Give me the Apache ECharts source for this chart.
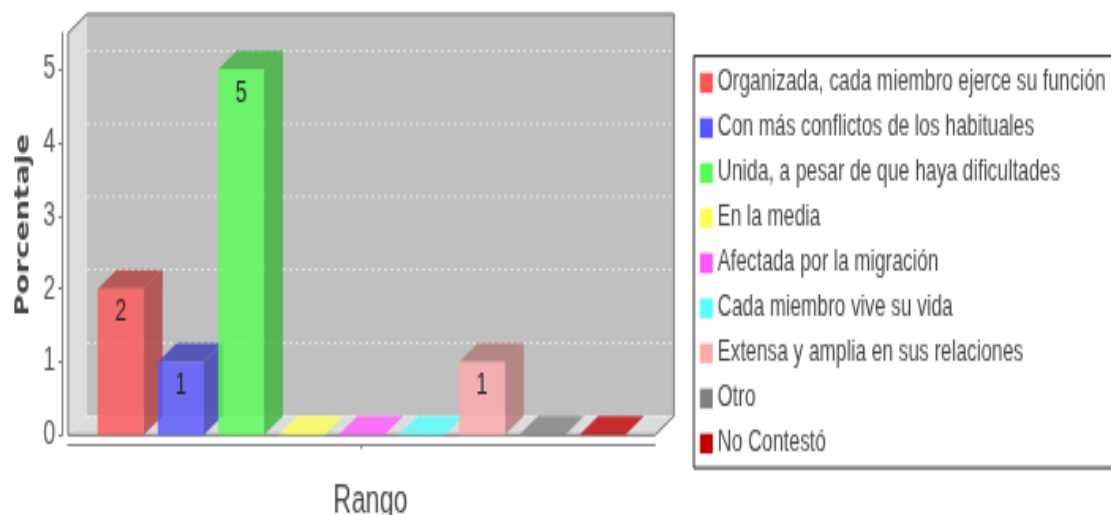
<!DOCTYPE html>
<html>
<head>
<meta charset="utf-8">
<script src="https://cdn.jsdelivr.net/npm/echarts@6/dist/echarts.min.js"></script>
<style>
  html, body { margin: 0; padding: 0; background: #fff; height: 100%; }
  html { overflow: hidden; }
  /* the source image is a small chart stretched to this size, so stretch ours too */
  #chart { width: 703px; height: 217px; transform-origin: 0 0; transform: scale(1.5804, 2.3733); }
</style>
</head>
<body>
<div id="chart"></div>
<script>
const categories = ["Rango"];
const seriesNames = [
  "Organizada, cada miembro ejerce su función",
  "Con más conflictos de los habituales",
  "Unida, a pesar de que haya dificultades",
  "En la media",
  "Afectada por la migración",
  "Cada miembro vive su vida",
  "Extensa y amplia en sus relaciones",
  "Otro",
  "No Contestó"
];
const seriesValues = [2, 1, 5, 0, 0, 0, 1, 0, 0];
const seriesColors = ["#ff5555", "#5555ff", "#55ff55", "#ffff55", "#ff55ff", "#55ffff", "#ffaaaa", "#808080", "#c00000"];
const yTicks = [0, 1, 2, 3, 4, 5];

const DX = 12, DY = 8;
const BAR_W = 29.1, BAR_PITCH = 38.1;

function darker(hex) {
  const n = parseInt(hex.slice(1), 16);
  const c = [n >> 16, (n >> 8) & 255, n & 255].map(v => Math.round(v * 0.7));
  return `rgb(${c[0]},${c[1]},${c[2]})`;
}

function renderWalls(params, api) {
  const g = params.coordSys;
  const l = g.x, r = g.x + g.width, t = g.y, b = g.y + g.height;
  const children = [
    { type: "rect", shape: { x: l + DX, y: t - DY, width: g.width, height: g.height }, style: { fill: "#c0c0c0" } },
    { type: "polygon", shape: { points: [[l, b], [l + DX, b - DY], [l + DX, t - DY], [l, t]] }, style: { fill: "#dddddd" } },
    { type: "polygon", shape: { points: [[l, b], [r, b], [r + DX, b - DY], [l + DX, b - DY]] }, style: { fill: "#dddddd" } }
  ];
  yTicks.forEach(v => {
    const y = api.coord([0, v])[1];
    children.push({
      type: "line",
      shape: { x1: l + DX, y1: y - DY, x2: r + DX, y2: y - DY },
      style: { stroke: "#eeeeee", lineWidth: 0.7, lineDash: [2, 2] }
    });
    children.push({
      type: "line",
      shape: { x1: l, y1: y, x2: l + DX, y2: y - DY },
      style: { stroke: "#eeeeee", lineWidth: 0.5, lineDash: [2, 2] }
    });
  });
  children.push({
    type: "polygon",
    shape: { points: [[l, t], [l + DX, t - DY], [r + DX, t - DY], [r + DX, b - DY], [r, b], [l, b]] },
    style: { fill: "none", stroke: "#737373", lineWidth: 1 }
  });
  return { type: "group", children };
}

function renderBar(index) {
  return function (params, api) {
    const base = api.coord([0, 0]);
    const top = api.coord([0, api.value(1)]);
    const color = seriesColors[index];
    const left = base[0] + (index - 4) * BAR_PITCH - BAR_W / 2;
    const right = left + BAR_W;
    const value = api.value(1);
    if (!value) {
      return {
        type: "polygon",
        shape: { points: [[left, base[1]], [right, base[1]], [right + DX, base[1] - DY], [left + DX, base[1] - DY]] },
        style: { fill: color, opacity: 0.8 }
      };
    }
    return {
      type: "group",
      children: [
        {
          type: "polygon",
          shape: { points: [[right, top[1]], [right + DX, top[1] - DY], [right + DX, base[1] - DY], [right, base[1]]] },
          style: { fill: darker(color), opacity: 0.8 }
        },
        {
          type: "polygon",
          shape: { points: [[left, top[1]], [right, top[1]], [right + DX, top[1] - DY], [left + DX, top[1] - DY]] },
          style: { fill: darker(color), opacity: 0.8 }
        },
        {
          type: "rect",
          shape: { x: left, y: top[1], width: BAR_W, height: base[1] - top[1] },
          style: { fill: color, opacity: 0.8 }
        },
        {
          type: "text",
          x: (left + right) / 2,
          y: top[1] + 10,
          style: {
            text: String(value), fill: "#222222", font: "13px 'Liberation Sans'",
            textAlign: "center", textVerticalAlign: "middle"
          }
        }
      ]
    };
  };
}

const series = [{
  type: "custom",
  silent: true,
  data: [[0, 0]],
  encode: { x: 0, y: 1 },
  renderItem: renderWalls
}];
seriesNames.forEach((name, i) => {
  series.push({
    name,
    type: "custom",
    data: [[0, seriesValues[i]]],
    encode: { x: 0, y: 1 },
    itemStyle: { color: seriesColors[i] },
    renderItem: renderBar(i)
  });
});

const chart = echarts.init(document.getElementById("chart"), null, { renderer: "canvas", devicePixelRatio: 1 });
chart.setOption({
  animation: false,
  backgroundColor: "#ffffff",
  grid: { left: 43, top: 13.9, width: 371.4, height: 169.4, outerBoundsMode: "none" },
  legend: {
    orient: "vertical",
    left: 439,
    top: 23.6,
    data: seriesNames.map(name => ({ name, icon: "rect" })),
    padding: [5.3, 12, 4.2, 3.8],
    itemWidth: 8.2,
    itemHeight: 8.4,
    itemGap: 7,
    borderColor: "#222222",
    borderWidth: 1,
    backgroundColor: "#ffffff",
    selectedMode: false,
    textStyle: { fontFamily: "'Liberation Sans'", fontSize: 12.35, color: "#444444", padding: [0, 0, 0, -2] }
  },
  xAxis: {
    type: "category",
    data: categories,
    offset: 4,
    name: "Rango",
    nameLocation: "middle",
    nameGap: 16,
    nameTextStyle: { fontFamily: "'Liberation Sans'", fontSize: 16, color: "#444444", padding: [0, 0, 0, 11.4] },
    axisLine: { onZero: false, lineStyle: { color: "#808080", width: 1 } },
    axisTick: { show: true, alignWithLabel: true, length: 2, lineStyle: { color: "#808080" } },
    axisLabel: { show: false }
  },
  yAxis: {
    type: "value",
    min: 0,
    max: 5.5,
    interval: 1,
    offset: 4,
    name: "Porcentaje",
    nameLocation: "middle",
    nameGap: 18,
    nameMoveOverlap: false,
    nameTextStyle: { fontFamily: "'DejaVu Sans'", fontSize: 12.7, fontWeight: "bold", color: "#444444", padding: [0, 0, 0, 7.6] },
    axisLine: { show: true, lineStyle: { color: "#808080", width: 1 } },
    axisTick: { show: true, length: 2, lineStyle: { color: "#808080" } },
    axisLabel: {
      margin: 4,
      fontFamily: "'Liberation Sans'",
      fontSize: 14,
      color: "#555555",
      showMaxLabel: false,
      formatter: v => (yTicks.includes(v) ? String(v) : "")
    },
    splitLine: { show: false }
  },
  series
});
</script>
</body>
</html>
